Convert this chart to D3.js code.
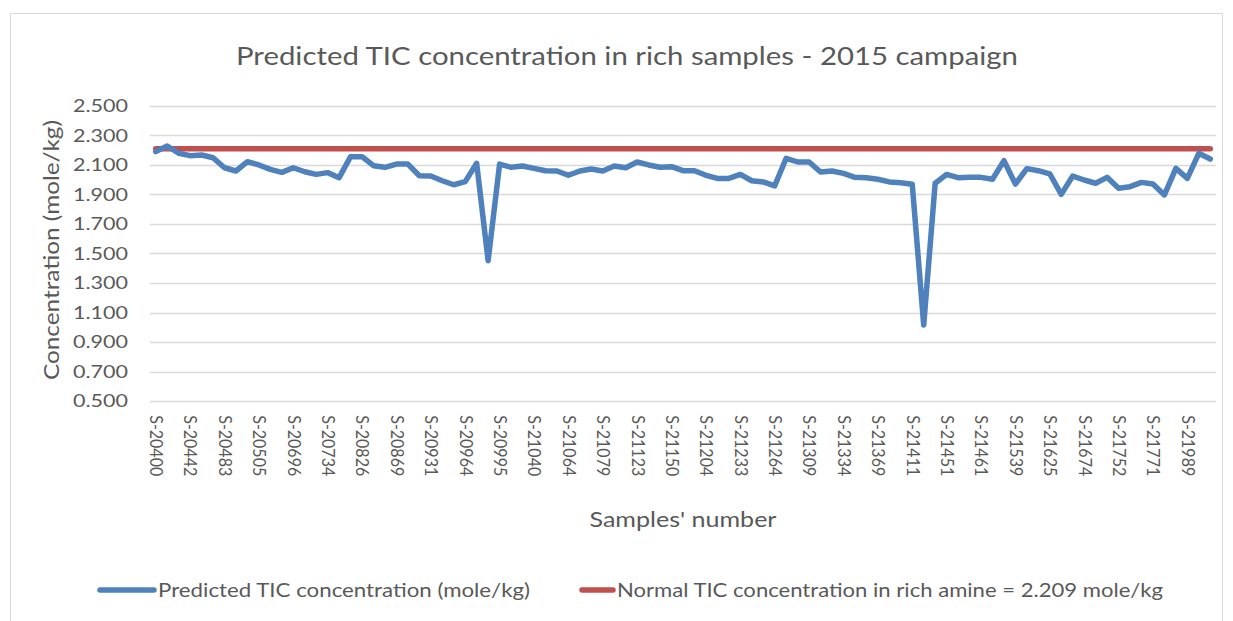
<!DOCTYPE html>
<html>
<head>
<meta charset="utf-8">
<script src="https://cdn.jsdelivr.net/npm/d3@7"></script>
<style>
  html, body { margin: 0; padding: 0; background: #ffffff; }
  svg { display: block; }
  text { font-family: Lato, "Open Sans", sans-serif; fill: #595959; }
</style>
</head>
<body>
<svg id="chart" width="1233" height="621"></svg>
<script>
// ---- data ----
const chartTitle = "Predicted TIC concentration in rich samples - 2015 campaign";
const yAxisTitle = "Concentration (mole/kg)";
const xAxisTitle = "Samples' number";
const seriesNames = ["Predicted TIC concentration (mole/kg)", "Normal TIC concentration in rich amine = 2.209 mole/kg"];

// labelled samples (every 3rd sample carries a label)
const tickLabels = ["S-20400","S-20442","S-20483","S-20505","S-20696","S-20734","S-20826","S-20869",
  "S-20931","S-20964","S-20995","S-21040","S-21064","S-21079","S-21123","S-21150","S-21204","S-21233",
  "S-21264","S-21309","S-21334","S-21369","S-21411","S-21451","S-21461","S-21539","S-21625","S-21674",
  "S-21752","S-21771","S-21989"];
const labelEvery = 3;

// predicted TIC concentration (mole/kg), one value per sample
const predictedTIC = [2.189,2.227,2.178,2.162,2.166,2.148,2.080,2.058,2.121,2.099,
  2.069,2.049,2.080,2.053,2.035,2.047,2.013,2.155,2.155,2.094,
  2.083,2.105,2.105,2.026,2.024,1.992,1.965,1.986,2.110,1.451,
  2.105,2.083,2.092,2.076,2.060,2.058,2.029,2.058,2.072,2.058,
  2.092,2.080,2.119,2.099,2.083,2.087,2.060,2.060,2.029,2.008,
  2.008,2.035,1.992,1.984,1.957,2.144,2.119,2.119,2.051,2.058,
  2.042,2.015,2.013,2.002,1.984,1.979,1.968,1.016,1.975,2.035,
  2.013,2.015,2.015,2.002,2.128,1.970,2.074,2.060,2.038,1.900,
  2.024,1.997,1.975,2.015,1.941,1.952,1.981,1.970,1.896,2.076,
  2.008,2.178,2.139];
const normalTIC = 2.209;

const yTicks = [0.5,0.7,0.9,1.1,1.3,1.5,1.7,1.9,2.1,2.3,2.5];
const yDomain = [0.5, 2.5];

// ---- layout ----
const colors = { pred: "#4f81bd", normal: "#c0504d", grid: "#d9d9d9", text: "#595959" };
const plot = { left: 150, right: 1216, top: 105.7, bottom: 401.2 };

const svg = d3.select("#chart");

// outer border
svg.append("rect")
  .attr("x", 10.5).attr("y", 13.5)
  .attr("width", 1212).attr("height", 640)
  .attr("fill", "#fff").attr("stroke", "#d9d9d9").attr("stroke-width", 1);

const idx = d3.range(predictedTIC.length);
const x = d3.scalePoint().domain(idx).range([plot.left, plot.right]).padding(0.5);
const y = d3.scaleLinear().domain(yDomain).range([plot.bottom, plot.top]);

// gridlines
svg.append("g").selectAll("line").data(yTicks).join("line")
  .attr("x1", plot.left).attr("x2", plot.right)
  .attr("y1", d => Math.round(y(d)) + 0.5).attr("y2", d => Math.round(y(d)) + 0.5)
  .attr("stroke", colors.grid).attr("stroke-width", 1.3);

// y axis labels
const yAxis = d3.axisLeft(y).tickValues(yTicks).tickFormat(d3.format(".3f")).tickSize(0).tickPadding(0);
const gy = svg.append("g").attr("transform", `translate(128,0)`).call(yAxis);
gy.select(".domain").remove();
gy.selectAll("text")
  .attr("font-size", 18).attr("fill", colors.text)
  .style("font-family", "Lato, sans-serif")
  .attr("textLength", 55).attr("lengthAdjust", "spacingAndGlyphs");

// x axis labels
const xTickVals = idx.filter(i => i % labelEvery === 0 && i / labelEvery < tickLabels.length);
const xAxis = d3.axisBottom(x).tickValues(xTickVals)
  .tickFormat(i => tickLabels[i / labelEvery]).tickSize(0).tickPadding(0);
const gx = svg.append("g").attr("transform", `translate(0,${plot.bottom})`).call(xAxis);
gx.select(".domain").remove();
gx.selectAll("text")
  .attr("font-size", 17).attr("fill", colors.text)
  .style("font-family", "Lato, sans-serif")
  .attr("text-anchor", "start")
  .attr("transform", "rotate(90)")
  .attr("x", 14).attr("y", 0).attr("dy", "0.36em")
  .attr("textLength", 61).attr("lengthAdjust", "spacingAndGlyphs");

// normal line
const line = d3.line().x((d, i) => x(i)).y(d => y(d));
svg.append("path")
  .datum(idx.map(() => normalTIC))
  .attr("d", line)
  .attr("fill", "none").attr("stroke", colors.normal)
  .attr("stroke-width", 5.5).attr("stroke-linecap", "round");

// predicted line
svg.append("path")
  .datum(predictedTIC)
  .attr("d", line)
  .attr("fill", "none").attr("stroke", colors.pred)
  .attr("stroke-width", 5.5).attr("stroke-linecap", "round").attr("stroke-linejoin", "round");

// title
svg.append("text").attr("x", 627).attr("y", 65)
  .attr("text-anchor", "middle").attr("font-size", 25)
  .attr("textLength", 782).attr("lengthAdjust", "spacingAndGlyphs")
  .text(chartTitle);

// y axis title
svg.append("text")
  .attr("transform", "translate(59,250) rotate(-90)")
  .attr("text-anchor", "middle").attr("font-size", 21)
  .attr("textLength", 260).attr("lengthAdjust", "spacingAndGlyphs")
  .text(yAxisTitle);

// x axis title
svg.append("text").attr("x", 683).attr("y", 527)
  .attr("text-anchor", "middle").attr("font-size", 21)
  .attr("textLength", 187).attr("lengthAdjust", "spacingAndGlyphs")
  .text(xAxisTitle);

// legend
const legend = [
  { name: seriesNames[0], color: colors.pred, x1: 100, x2: 154, tx: 158, tw: 372 },
  { name: seriesNames[1], color: colors.normal, x1: 582, x2: 613, tx: 617, tw: 546 }
];
const lg = svg.append("g");
legend.forEach(l => {
  lg.append("line").attr("x1", l.x1).attr("x2", l.x2).attr("y1", 590).attr("y2", 590)
    .attr("stroke", l.color).attr("stroke-width", 5.5).attr("stroke-linecap", "round");
  lg.append("text").attr("x", l.tx).attr("y", 597).attr("font-size", 19)
    .attr("textLength", l.tw).attr("lengthAdjust", "spacingAndGlyphs")
    .text(l.name);
});
</script>
</body>
</html>
